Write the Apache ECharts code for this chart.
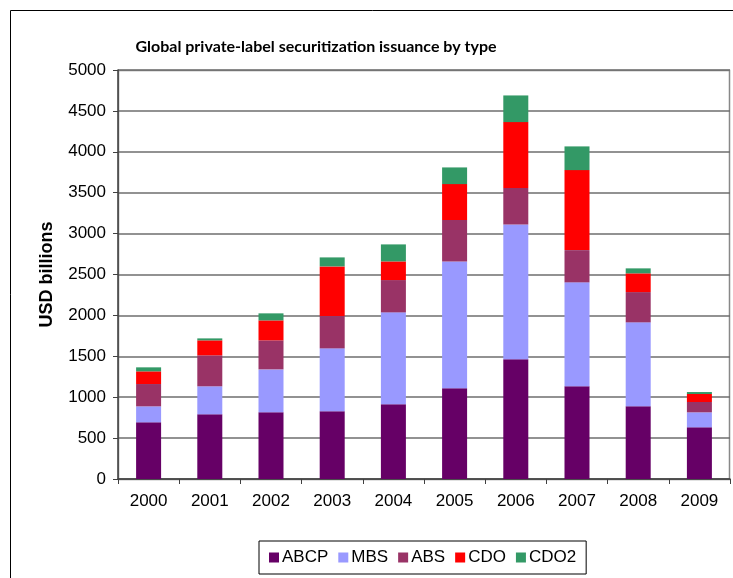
<!DOCTYPE html>
<html>
<head>
<meta charset="utf-8">
<script src="https://cdn.jsdelivr.net/npm/echarts@6/dist/echarts.min.js"></script>
<style>
  html, body { margin: 0; padding: 0; background: #fff; }
  #chart { width: 733px; height: 578px; }
</style>
</head>
<body>
<div id="chart"></div>
<script>
// data, USD billions
var years = ['2000', '2001', '2002', '2003', '2004', '2005', '2006', '2007', '2008', '2009'];
var abcp = [693, 791, 815, 827, 913, 1108, 1463, 1133, 888, 632];
var mbs  = [195, 342, 525, 770, 1124, 1552, 1649, 1271, 1027, 183];
var abs  = [273, 379, 355, 395, 395, 505, 444, 394, 370, 126];
var cdo  = [155, 183, 244, 607, 228, 440, 807, 978, 229, 98];
var cdo2 = [49, 24, 86, 110, 208, 204, 326, 290, 61, 24];
var yTicks = [0, 500, 1000, 1500, 2000, 2500, 3000, 3500, 4000, 4500, 5000];

var font = '"Liberation Sans", Arial, sans-serif';

// one stacked series
function bar(name, data, color) {
    return {
        name: name,
        type: 'bar',
        stack: 'total',
        barWidth: 25,
        data: data,
        itemStyle: { color: color },
        emphasis: { disabled: true }
    };
}

var chart = echarts.init(document.getElementById('chart'));
chart.setOption({
    animation: false,
    title: {
        text: 'Global private-label securitization issuance by type',
        left: 311,
        textAlign: 'center',
        top: 34,
        textStyle: { fontFamily: 'Lato, sans-serif', fontWeight: 'bold', fontSize: 16, color: '#000' }
    },
    graphic: [
        {
            type: 'rect',
            shape: { x: 10.5, y: 10.5, width: 740, height: 590 },
            style: { fill: 'none', stroke: '#000', lineWidth: 1 }
        },
        {
            type: 'rect',
            shape: { x: 118.5, y: 70.5, width: 611, height: 409 },
            style: { fill: 'none', stroke: '#888', lineWidth: 1.5 },
            z: 0
        }
    ],
    legend: {
        left: 259,
        top: 541,
        padding: [8, 10, 8, 10],
        borderColor: '#000',
        borderWidth: 1,
        itemWidth: 10,
        itemHeight: 10,
        itemGap: 10,
        icon: 'rect',
        textStyle: { fontFamily: font, fontSize: 17, color: '#000', padding: [0, 0, 0, -2] },
        data: ['ABCP', 'MBS', 'ABS', 'CDO', 'CDO2']
    },
    grid: { left: 118, right: 3, top: 70, bottom: 99, containLabel: false },
    xAxis: {
        type: 'category',
        data: years,
        boundaryGap: true,
        axisLine: { lineStyle: { color: '#404040', width: 1.5 } },
        axisTick: { show: true, length: 5, inside: false, lineStyle: { color: '#404040' } },
        axisLabel: { fontFamily: font, fontSize: 17, color: '#000', margin: 14 }
    },
    yAxis: {
        type: 'value',
        min: yTicks[0],
        max: yTicks[yTicks.length - 1],
        interval: 500,
        name: 'USD billions',
        nameLocation: 'middle',
        nameGap: 62,
        nameRotate: 90,
        nameTextStyle: { fontFamily: font, fontSize: 18, fontWeight: 'bold', color: '#000' },
        axisLine: { show: true, lineStyle: { color: '#404040', width: 1.5 } },
        axisTick: { show: true, length: 5, inside: false, lineStyle: { color: '#404040' } },
        axisLabel: {
            fontFamily: font, fontSize: 17, color: '#000', margin: 12,
            formatter: function (v) { return String(v); }
        },
        splitLine: { show: true, lineStyle: { color: '#6e6e6e', width: 1.5 } }
    },
    series: [
        bar('ABCP', abcp, '#660066'),
        bar('MBS', mbs, '#9999FF'),
        bar('ABS', abs, '#993366'),
        bar('CDO', cdo, '#FF0000'),
        bar('CDO2', cdo2, '#339966')
    ]
});
</script>
</body>
</html>
